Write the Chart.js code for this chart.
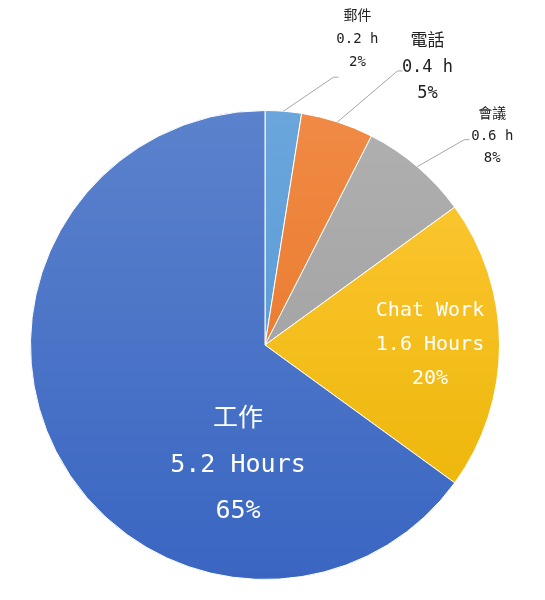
<!DOCTYPE html>
<html>
<head>
<meta charset="utf-8">
<script src="https://cdn.jsdelivr.net/npm/chart.js@4/dist/chart.umd.min.js"></script>
<style>
  html, body { margin: 0; padding: 0; background: #fff; }
  #wrap { width: 545px; height: 600px; }
</style>
</head>
<body>
<div id="wrap"><canvas id="pie-chart"></canvas></div>
<script>
// data
var categories = ['郵件', '電話', '會議', 'Chat Work', '工作'];
var hours = [0.2, 0.4, 0.6, 1.6, 5.2];
var hourLabels = ['0.2 h', '0.4 h', '0.6 h', '1.6 Hours', '5.2 Hours'];
var percentLabels = ['2%', '5%', '8%', '20%', '65%'];
var colorsLight = ['#6aa6dc', '#f08a45', '#b0b0b0', '#ffc93a', '#5b82cc'];
var colorsDark = ['#5294d3', '#e6711f', '#9a9a9a', '#e9b300', '#3a66c2'];

var FONT = '"DejaVu Sans Mono", "Noto Sans CJK TC", monospace';

// label placement: inside = offset from pie centre, outside = offset from arc edge
var labelStyle = [
  { inside: false, dx: 74, dy: -72, lx: 50, ly: -34, size: 14, lh: 23 },
  { inside: false, dx: 90, dy: -54, lx: 60, ly: -51, size: 17, lh: 26 },
  { inside: false, dx: 75, dy: -30, lx: 47, ly: -27, size: 14, lh: 22 },
  { inside: true, dx: 165, dy: 0, size: 20, lh: 34 },
  { inside: true, dx: -27, dy: 120, size: 25, lh: 46 }
];

var labelPlugin = {
  id: 'sliceLabels',
  afterDatasetsDraw: function(chart) {
    var ctx = chart.ctx;
    var meta = chart.getDatasetMeta(0);
    meta.data.forEach(function(arc, i) {
      var st = labelStyle[i];
      var mid = (arc.startAngle + arc.endAngle) / 2;
      var lines = [categories[i], hourLabels[i], percentLabels[i]];
      var cx, cy;
      ctx.save();
      ctx.font = st.size + 'px ' + FONT;
      ctx.textAlign = 'center';
      ctx.textBaseline = 'middle';
      if (st.inside) {
        cx = arc.x + st.dx;
        cy = arc.y + st.dy;
        ctx.fillStyle = '#ffffff';
      } else {
        var ex = arc.x + Math.cos(mid) * arc.outerRadius;
        var ey = arc.y + Math.sin(mid) * arc.outerRadius;
        ctx.strokeStyle = '#a6a6a6';
        ctx.lineWidth = 1;
        ctx.beginPath();
        ctx.moveTo(ex, ey);
        ctx.lineTo(ex + st.lx, ey + st.ly);
        ctx.lineTo(ex + st.lx + 5, ey + st.ly);
        ctx.stroke();
        cx = ex + st.dx;
        cy = ey + st.dy;
        ctx.fillStyle = '#222222';
      }
      for (var k = 0; k < lines.length; k++) {
        ctx.fillText(lines[k], cx, cy + (k - 1) * st.lh);
      }
      ctx.restore();
    });
  }
};

function sliceColor(context) {
  var i = context.dataIndex;
  var chart = context.chart;
  var area = chart.chartArea;
  if (!area) return colorsLight[i];
  var g = chart.ctx.createLinearGradient(0, area.top, 0, area.bottom);
  g.addColorStop(0, colorsLight[i]);
  g.addColorStop(1, colorsDark[i]);
  return g;
}

new Chart(document.getElementById('pie-chart'), {
  type: 'pie',
  data: {
    labels: categories,
    datasets: [{
      data: hours,
      backgroundColor: sliceColor,
      borderColor: '#ffffff',
      borderWidth: 1
    }]
  },
  options: {
    responsive: true,
    maintainAspectRatio: false,
    animation: false,
    layout: { padding: { top: 110, bottom: 20, left: 30, right: 45 } },
    plugins: {
      legend: { display: false },
      tooltip: { enabled: false }
    }
  },
  plugins: [labelPlugin]
});
</script>
</body>
</html>
